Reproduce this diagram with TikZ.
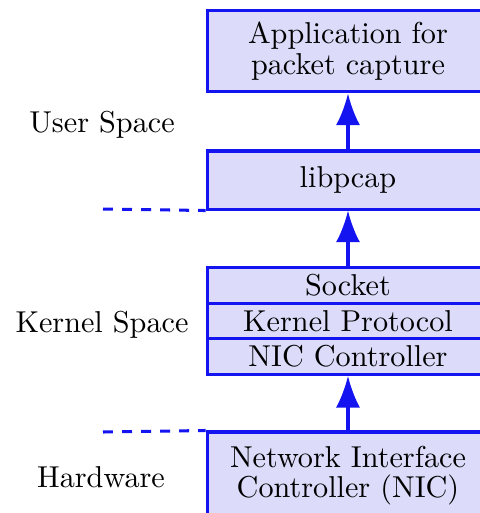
\documentclass[tikz,border=0pt]{standalone}
\usetikzlibrary{arrows.meta}

\definecolor{boxline}{RGB}{20,20,240}
\definecolor{boxfill}{RGB}{220,220,250}

\tikzset{
  layer/.style={draw=boxline, fill=boxfill, line width=1pt, rectangle,
    minimum width=93.3pt, inner sep=0pt, align=center, font=\normalsize},
  flow/.style={draw=boxline, line width=1pt,
    -{Latex[length=10.5pt,width=8pt]}},
  divider/.style={draw=boxline, line width=1pt, dash pattern=on 3.3pt off 3pt},
  region/.style={anchor=base, inner sep=0pt}
}

\begin{document}
\begin{tikzpicture}[x=0.331pt, y=-0.331pt]
  \useasboundingbox (0,0) rectangle (480,513);
  \clip (0,0) rectangle (480,513);

  % user space
  \node[layer, minimum height=27.1pt] (app) at (348,51)
    {Application for\\[-2pt]packet capture};
  \node[layer, minimum height=19.2pt] (pcap) at (348,180) {libpcap};

  % kernel space stack
  \node[layer, minimum height=11.8pt] (sock) at (348,285.5) {Socket};
  \node[layer, minimum height=11.8pt] (proto) at (348,321) {Kernel Protocol};
  \node[layer, minimum height=11.8pt] (drv) at (348,356.5) {NIC Controller};

  % hardware
  \node[layer, minimum height=28.8pt] (nic) at (348,475.5)
    {Network Interface\\[-2pt]Controller (NIC)};

  % region labels
  \node[region] (usr) at (102,132) {User Space};
  \node[region] (krn) at (102,332) {Kernel Space};
  \node[region] (hw) at (101,487) {Hardware};

  % boundaries between regions
  \coordinate (b1) at (103,209);
  \coordinate (b2) at (103,432);
  \draw[divider] (b1) -- (pcap.south west);
  \draw[divider] (b2) -- (nic.north west);

  % data path
  \draw[flow] (pcap.north) -- (app.south);
  \draw[flow] (sock.north) -- (pcap.south);
  \draw[flow] (nic.north) -- (drv.south);
\end{tikzpicture}
\end{document}
